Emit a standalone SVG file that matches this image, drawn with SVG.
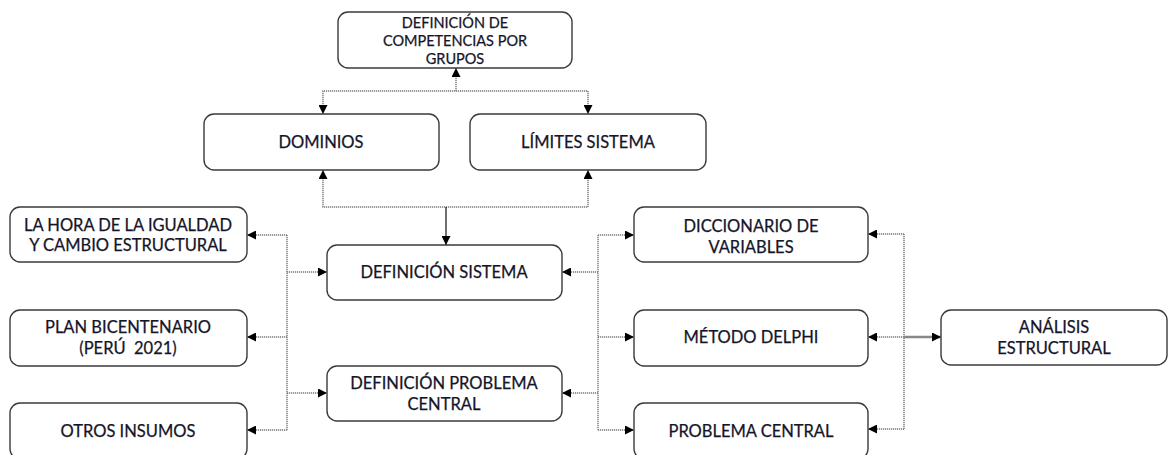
<svg xmlns="http://www.w3.org/2000/svg" width="1168" height="455" viewBox="0 0 1168 455">
<style>
.box{fill:#fff;stroke:#3a3a3a;stroke-width:1.4}
.t{font-family:Lato,"Liberation Sans",sans-serif;font-size:16.5px;fill:#15152a;stroke:#15152a;stroke-width:0.25;text-anchor:middle;dominant-baseline:central;white-space:pre}
.ts{font-size:14.5px}
.dot{fill:none;stroke:#777;stroke-width:1.4;stroke-dasharray:1.2 0.8}
.sol{fill:none;stroke:#111;stroke-width:1.2}
.thick{fill:none;stroke:#888;stroke-width:2.6}
</style>
<defs>
<marker id="ah" viewBox="0 0 10 10" refX="10" refY="5" markerWidth="10" markerHeight="9" markerUnits="userSpaceOnUse" orient="auto-start-reverse">
<path d="M0,0 L10,5 L0,10 z" fill="#000"/>
</marker>
</defs>
<g id="connectors">
<path class="dot" d="M323,114 V91 H588 V114" marker-start="url(#ah)" marker-end="url(#ah)"/>
<path class="dot" d="M456,91 V68" marker-end="url(#ah)"/>
<path class="dot" d="M323,170 V207 H588 V170" marker-start="url(#ah)" marker-end="url(#ah)"/>
<path class="sol" d="M446,207 V245" marker-end="url(#ah)"/>
<path class="dot" d="M287,235 V430"/>
<path class="dot" d="M287,235 H247" marker-end="url(#ah)"/>
<path class="dot" d="M287,337 H247" marker-end="url(#ah)"/>
<path class="dot" d="M287,430 H247" marker-end="url(#ah)"/>
<path class="dot" d="M287,272 H327" marker-end="url(#ah)"/>
<path class="dot" d="M287,393 H327" marker-end="url(#ah)"/>
<path class="dot" d="M598,235 V430"/>
<path class="dot" d="M598,272 H562" marker-end="url(#ah)"/>
<path class="dot" d="M598,393 H562" marker-end="url(#ah)"/>
<path class="dot" d="M598,235 H634" marker-end="url(#ah)"/>
<path class="dot" d="M598,337 H634" marker-end="url(#ah)"/>
<path class="dot" d="M598,430 H634" marker-end="url(#ah)"/>
<path class="dot" d="M904,234 V429"/>
<path class="dot" d="M904,234 H868" marker-end="url(#ah)"/>
<path class="dot" d="M904,337 H868" marker-end="url(#ah)"/>
<path class="dot" d="M904,429 H868" marker-end="url(#ah)"/>
<path class="thick" d="M904,337 H941" marker-end="url(#ah)"/>
</g>
<g id="n-competencias">
<rect class="box" x="338" y="12" width="234" height="56" rx="10"/>
<text class="t ts" x="455" y="22">DEFINICIÓN DE</text>
<text class="t ts" x="455" y="40">COMPETENCIAS POR</text>
<text class="t ts" x="455" y="58">GRUPOS</text>
</g>
<g id="n-dominios">
<rect class="box" x="204" y="114" width="235" height="56" rx="10"/>
<text class="t" x="321" y="142">DOMINIOS</text>
</g>
<g id="n-limites">
<rect class="box" x="470" y="114" width="236" height="56" rx="10"/>
<text class="t" x="588" y="142">LÍMITES SISTEMA</text>
</g>
<g id="n-hora">
<rect class="box" x="10" y="207" width="237" height="55" rx="10"/>
<text class="t" x="128" y="225">LA HORA DE LA IGUALDAD</text>
<text class="t" x="128" y="245">Y CAMBIO ESTRUCTURAL</text>
</g>
<g id="n-plan">
<rect class="box" x="10" y="310" width="237" height="56" rx="10"/>
<text class="t" x="128" y="327">PLAN BICENTENARIO</text>
<text class="t" x="128" y="348" xml:space="preserve">(PERÚ  2021)</text>
</g>
<g id="n-otros">
<rect class="box" x="10" y="403" width="237" height="56" rx="10"/>
<text class="t" x="128" y="431">OTROS INSUMOS</text>
</g>
<g id="n-def-sistema">
<rect class="box" x="327" y="245" width="235" height="55" rx="10"/>
<text class="t" x="444" y="272">DEFINICIÓN SISTEMA</text>
</g>
<g id="n-def-problema">
<rect class="box" x="327" y="366" width="235" height="55" rx="10"/>
<text class="t" x="444" y="383">DEFINICIÓN PROBLEMA</text>
<text class="t" x="444" y="404">CENTRAL</text>
</g>
<g id="n-diccionario">
<rect class="box" x="634" y="207" width="234" height="55" rx="10"/>
<text class="t" x="751" y="226">DICCIONARIO DE</text>
<text class="t" x="751" y="247">VARIABLES</text>
</g>
<g id="n-delphi">
<rect class="box" x="634" y="310" width="234" height="56" rx="10"/>
<text class="t" x="751" y="337">MÉTODO DELPHI</text>
</g>
<g id="n-problema">
<rect class="box" x="634" y="403" width="234" height="56" rx="10"/>
<text class="t" x="751" y="431">PROBLEMA CENTRAL</text>
</g>
<g id="n-analisis">
<rect class="box" x="941" y="310" width="226" height="55" rx="10"/>
<text class="t" x="1054" y="327">ANÁLISIS</text>
<text class="t" x="1054" y="348">ESTRUCTURAL</text>
</g>
</svg>
